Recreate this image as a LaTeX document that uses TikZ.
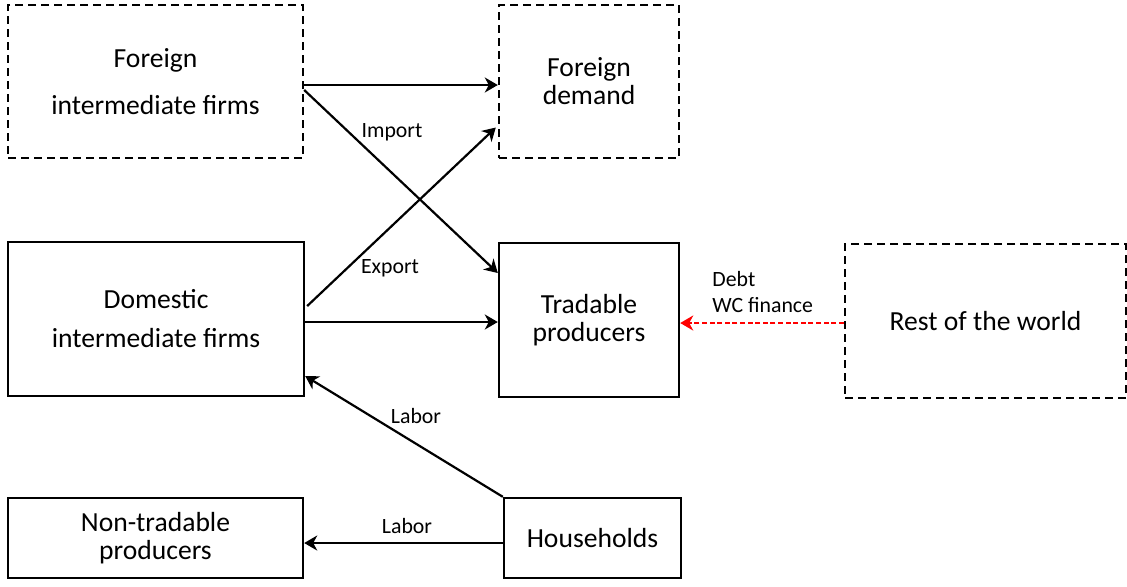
\documentclass[tikz,border=0pt]{standalone}
\usepackage{fontspec}
\setmainfont{Carlito}
\usetikzlibrary{arrows.meta}
\begin{document}
\begin{tikzpicture}[x=0.5pt,y=-0.5pt,
    box/.style={draw,line width=1.2pt,align=center,inner sep=0pt,
      font=\fontsize{13.8}{14}\selectfont},
    ext/.style={box,dash pattern=on 4pt off 2.5pt},
    lbl/.style={font=\fontsize{10.9}{13}\selectfont,inner sep=0pt,align=left},
    flow/.style={-{Stealth[length=6.5pt,width=7.5pt,inset=2pt]},line width=1.1pt}]
      \useasboundingbox (0,0) rectangle (1127,586);
      \draw
        (155.5,81.5) node[ext,minimum width=147.5pt,minimum height=76.5pt] (fif){Foreign\\[9.5pt]intermediate firms}
        (589,81.5) node[ext,minimum width=90pt,minimum height=76.5pt] (fd){Foreign\\demand}
        (156,319) node[box,minimum width=148pt,minimum height=77pt] (dif){Domestic\\[5.5pt]intermediate firms}
        (589,320) node[box,minimum width=90pt,minimum height=77pt] (tp){Tradable\\producers}
        (985.5,321) node[ext,minimum width=140.5pt,minimum height=77pt] (rw){Rest of the world}
        (155.5,538) node[box,minimum width=147.5pt,minimum height=40pt] (ntp){Non-tradable\\producers}
        (592.5,538) node[box,minimum width=88.5pt,minimum height=40pt] (hh){Households};
      \draw
        (392,132) node[lbl] (imp){Import}
        (390,268) node[lbl] (exp){Export}
        (712,292) node[lbl,anchor=west] (debt){Debt\\WC finance}
        (416,416) node[lbl] (lab1){Labor}
        (407,526) node[lbl] (lab2){Labor};
      \begin{scope}[flow]
        \draw ([yshift=-1.75pt]fif.east) to ([yshift=-1.75pt]fd.west);
        \draw ([yshift=-4.25pt]fif.east) to ([yshift=23.5pt]tp.west);
        \draw ([yshift=6.5pt,xshift=1pt]dif.east) to ([yshift=-23pt,xshift=-1pt]fd.west);
        \draw ([yshift=-1.5pt]dif.east) to ([yshift=-1pt]tp.west);
        \draw (hh.north west) to ([yshift=-28.5pt]dif.east);
        \draw ([yshift=-2.5pt]hh.west) to ([yshift=-2.5pt]ntp.east);
        \draw[red,dash pattern=on 2.5pt off 1.3pt] ([yshift=-1pt]rw.west) to ([yshift=-1.5pt]tp.east);
      \end{scope}
    \end{tikzpicture}
\end{document}
